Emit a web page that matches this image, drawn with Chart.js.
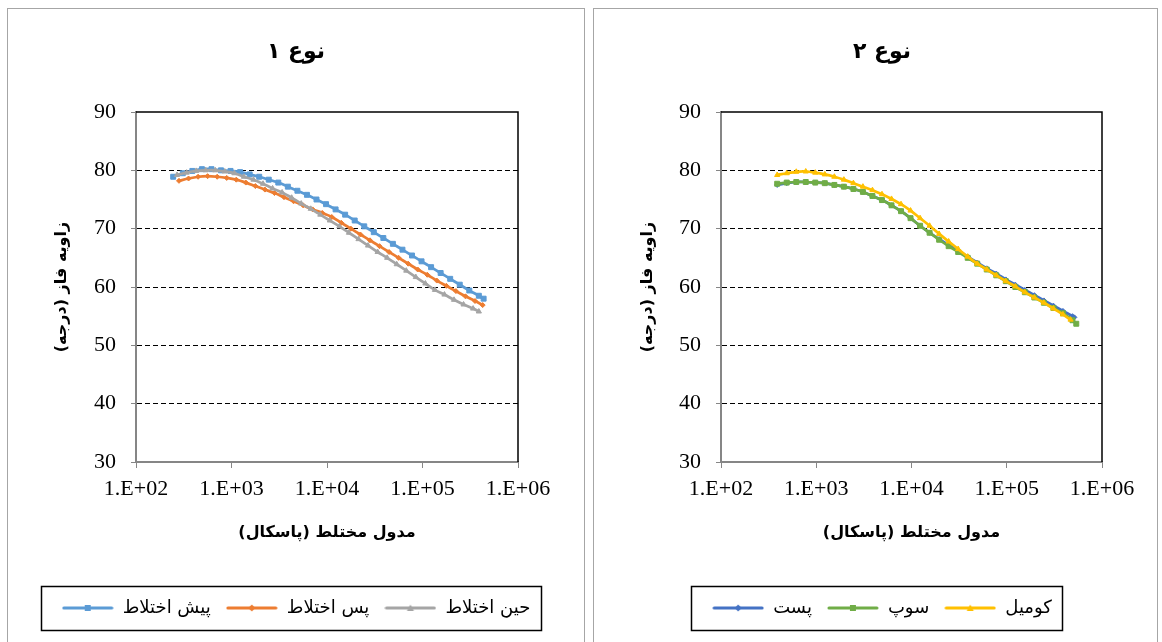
<!DOCTYPE html>
<html lang="fa">
<head>
<meta charset="utf-8">
<title>زاویه فاز - مدول مختلط</title>
<script src="https://cdn.jsdelivr.net/npm/chart.js@4.4.1/dist/chart.umd.min.js"></script>
<style>
  html, body { margin: 0; padding: 0; background: #fff; overflow: hidden; }
  .panel { position: absolute; top: 8px; border: 1px solid #a6a6a6; background: #fff; }
  #panel1 { left: 7px; width: 576px; height: 640px; }
  #panel2 { left: 593px; width: 563px; height: 640px; }
  canvas { display: block; }
</style>
</head>
<body>
<div class="panel" id="panel1"><canvas id="chart1" width="576" height="632"></canvas></div>
<div class="panel" id="panel2"><canvas id="chart2" width="563" height="632"></canvas></div>
<script>
// axis ticks and titles
const xTickValues = [1e2, 1e3, 1e4, 1e5, 1e6];
const xTickLabels = ['1.E+02', '1.E+03', '1.E+04', '1.E+05', '1.E+06'];
const xAxisTitle = 'مدول مختلط (پاسکال)';
const yAxisTitle = 'زاویه فاز (درجه)';
const chartTitles = ['نوع ۱', 'نوع ۲'];

// نوع ۱
const type1Names = ['پیش اختلاط', 'پس اختلاط', 'حین اختلاط'];
const preMixModulus = [245, 309, 389, 490, 617, 776, 977, 1230, 1549, 1950, 2455, 3090, 3890, 4898, 6166, 7762, 9772,
  12303, 15488, 19498, 24547, 30903, 38905, 48978, 61660, 77625, 97724, 123027, 154882, 194984, 245471, 309030, 389045, 436516];
const preMixPhase = [78.9, 79.5, 79.9, 80.2, 80.2, 80.0, 79.9, 79.7, 79.3, 78.9, 78.4, 77.9, 77.2, 76.5, 75.8, 75.0, 74.2,
  73.3, 72.4, 71.4, 70.4, 69.4, 68.4, 67.4, 66.4, 65.4, 64.4, 63.4, 62.4, 61.4, 60.4, 59.4, 58.5, 58.0];
const postMixModulus = [282, 355, 447, 562, 708, 891, 1122, 1413, 1778, 2239, 2818, 3548, 4467, 5623, 7079, 8913,
  11220, 14125, 17783, 22387, 28184, 35481, 44668, 56234, 70795, 89125, 112202, 141254, 177828, 223872, 281838, 354813, 426580];
const postMixPhase = [78.2, 78.6, 78.9, 79.0, 78.9, 78.7, 78.4, 77.9, 77.3, 76.7, 76.1, 75.4, 74.7, 74.0, 73.3, 72.7,
  72.0, 71.0, 70.0, 69.0, 68.0, 67.0, 66.0, 65.0, 64.0, 63.0, 62.1, 61.1, 60.2, 59.3, 58.4, 57.6, 56.9];
const duringMixModulus = [269, 339, 427, 537, 676, 851, 1072, 1349, 1698, 2138, 2692, 3388, 4266, 5370, 6761, 8511,
  10715, 13490, 16982, 21380, 26915, 33884, 42658, 53703, 67608, 85114, 107152, 134896, 169824, 213796, 269153, 338844, 389045];
const duringMixPhase = [79.2, 79.6, 79.9, 80.0, 80.0, 79.8, 79.5, 78.9, 78.4, 77.7, 76.9, 76.2, 75.3, 74.3, 73.4, 72.4,
  71.4, 70.4, 69.3, 68.2, 67.1, 66.0, 65.0, 63.9, 62.8, 61.7, 60.6, 59.5, 58.7, 57.8, 57.0, 56.3, 55.8];

// نوع ۲
const type2Names = ['پست', 'سوپ', 'کومیل'];
const pastModulus = [389, 490, 617, 776, 977, 1230, 1549, 1950, 2455, 3090, 3890, 4898, 6166, 7762, 9772, 12303,
  15488, 19498, 24547, 30903, 38905, 48978, 61660, 77625, 97724, 123027, 154882, 194984, 245471, 309030, 389045, 489779, 512861];
const pastPhase = [77.5, 77.8, 78.0, 78.0, 77.9, 77.8, 77.5, 77.2, 76.8, 76.3, 75.6, 74.9, 74.0, 73.0, 71.8, 70.5,
  69.3, 68.2, 67.2, 66.2, 65.2, 64.2, 63.2, 62.3, 61.3, 60.4, 59.5, 58.6, 57.7, 56.8, 55.9, 55.0, 54.8];
const soupModulus = [389, 490, 617, 776, 977, 1230, 1549, 1950, 2455, 3090, 3890, 4898, 6166, 7762, 9772, 12303,
  15488, 19498, 24547, 30903, 38905, 48978, 61660, 77625, 97724, 123027, 154882, 194984, 245471, 309030, 389045, 489779, 537032];
const soupPhase = [77.7, 77.9, 78.0, 78.0, 77.9, 77.8, 77.5, 77.2, 76.8, 76.3, 75.6, 74.9, 74.0, 73.0, 71.8, 70.5,
  69.3, 68.1, 67.0, 66.0, 65.0, 64.0, 63.0, 62.0, 61.0, 60.0, 59.1, 58.2, 57.3, 56.4, 55.5, 54.3, 53.7];
const komeilModulus = [389, 490, 617, 776, 977, 1230, 1549, 1950, 2455, 3090, 3890, 4898, 6166, 7762, 9772, 12303,
  15488, 19498, 24547, 30903, 38905, 48978, 61660, 77625, 97724, 123027, 154882, 194984, 245471, 309030, 389045, 467735];
const komeilPhase = [79.2, 79.5, 79.75, 79.8, 79.6, 79.3, 78.9, 78.4, 77.8, 77.2, 76.6, 75.9, 75.1, 74.2, 73.1, 71.8,
  70.5, 69.1, 67.8, 66.5, 65.2, 64.0, 63.0, 62.0, 61.0, 60.1, 59.1, 58.2, 57.3, 56.3, 55.3, 54.4];

const persianFont = "'DejaVu Sans', sans-serif";
const RLM = '\u200F';
Chart.defaults.font.family = "'Liberation Serif', 'Times New Roman', serif";
Chart.defaults.color = '#000';

// small line + marker image used as the legend symbol
function legendIcon(color, marker) {
  const c = document.createElement('canvas');
  c.width = 52; c.height = 10;
  const g = c.getContext('2d');
  g.strokeStyle = color; g.fillStyle = color;
  g.lineWidth = 3; g.lineCap = 'round';
  g.beginPath(); g.moveTo(2, 5); g.lineTo(50, 5); g.stroke();
  g.beginPath();
  if (marker === 'rect') {
    g.rect(23, 2, 6, 6);
  } else if (marker === 'rectRot') {
    g.moveTo(26, 1.5); g.lineTo(29.5, 5); g.lineTo(26, 8.5); g.lineTo(22.5, 5); g.closePath();
  } else {
    g.moveTo(26, 1.5); g.lineTo(29.5, 8); g.lineTo(22.5, 8); g.closePath();
  }
  g.fill();
  return c;
}

// top and right edges of the plot area, box round the legend
const framePlugin = {
  id: 'frame',
  afterLayout(chart, args, opts) {
    // title and legend sit centred on the whole panel, not on the padded width
    [chart.titleBlock, chart.legend].forEach(b => {
      if (b) { b.left += opts.shift; b.right += opts.shift; }
    });
  },
  beforeDatasetsDraw(chart) {
    const { ctx, chartArea: a } = chart;
    ctx.save();
    ctx.strokeStyle = '#000';
    ctx.lineWidth = 1.5;
    ctx.beginPath();
    ctx.moveTo(a.left, a.top);
    ctx.lineTo(a.right, a.top);
    ctx.lineTo(a.right, a.bottom);
    ctx.stroke();
    ctx.restore();
  },
  afterDraw(chart) {
    const boxes = chart.legend && chart.legend.legendHitBoxes;
    if (!boxes || !boxes.length) return;
    const left = Math.min(...boxes.map(b => b.left)) - 21;
    const right = Math.max(...boxes.map(b => b.left + b.width)) + 10;
    const cy = boxes[0].top + boxes[0].height / 2;
    const { ctx } = chart;
    ctx.save();
    ctx.strokeStyle = '#000';
    ctx.lineWidth = 1.5;
    ctx.strokeRect(Math.round(left) + 0.5, Math.round(cy - 22) + 0.5, Math.round(right - left), 44);
    ctx.restore();
  }
};

function drawPanel(canvasId, title, series, yWidth, padRight, shift) {
  const ctx = document.getElementById(canvasId).getContext('2d');
  return new Chart(ctx, {
    type: 'line',
    data: {
      datasets: series.map((s, i) => ({
        label: s.label,
        data: s.modulus.map((x, j) => ({ x: x, y: s.phase[j] })),
        borderColor: s.color,
        backgroundColor: s.color,
        borderWidth: 2.75,
        tension: 0.3,
        pointStyle: s.marker,
        pointRadius: s.radius,
        pointBorderWidth: 1,
        pointBackgroundColor: s.color,
        pointBorderColor: s.color,
        order: series.length - i
      }))
    },
    options: {
      responsive: false,
      animation: false,
      devicePixelRatio: 1,
      layout: { padding: { top: 0, left: 0, right: padRight, bottom: 14 } },
      plugins: {
        frame: { shift: shift },
        title: {
          display: true,
          text: title,
          color: '#000',
          font: { family: persianFont, size: 22, weight: 'bold' },
          padding: { top: 30, bottom: 46.6 }
        },
        legend: {
          position: 'bottom',
          labels: {
            usePointStyle: true,
            pointStyleWidth: 52,
            padding: 15,
            color: '#000',
            font: { family: persianFont, size: 18 },
            generateLabels: chart => chart.data.datasets.map((d, i) => ({
              text: d.label,
              datasetIndex: i,
              pointStyle: series[i].icon,
              fillStyle: d.borderColor,
              strokeStyle: d.borderColor,
              lineWidth: 0,
              hidden: false
            }))
          }
        },
        tooltip: { enabled: false }
      },
      scales: {
        x: {
          type: 'logarithmic',
          min: 100,
          max: 1e6,
          afterBuildTicks: scale => { scale.ticks = xTickValues.map(v => ({ value: v })); },
          afterFit: scale => { scale.height = 122; },
          ticks: {
            callback: (v, i) => xTickLabels[i],
            autoSkip: false, maxRotation: 0, minRotation: 0,
            padding: 8, color: '#000',
            font: { size: 22 }
          },
          grid: { drawOnChartArea: false, tickColor: '#868686', tickLength: 6 },
          border: { color: '#868686', width: 2 },
          title: {
            display: true,
            text: RLM + xAxisTitle + RLM,
            color: '#000',
            font: { family: persianFont, size: 16, weight: 'bold' },
            padding: { top: 0, bottom: 42 }
          }
        },
        y: {
          min: 30,
          max: 90,
          afterFit: scale => { scale.width = yWidth; },
          ticks: { stepSize: 10, padding: 15, color: '#000', font: { size: 22 } },
          grid: {
            color: c => (c.tick && (c.tick.value === 30 || c.tick.value === 90)) ? 'rgba(0,0,0,0)' : '#000',
            tickColor: '#868686',
            tickLength: 5,
            lineWidth: 1
          },
          border: { color: '#868686', width: 2, dash: [5, 3] },
          title: {
            display: true,
            text: RLM + yAxisTitle + RLM,
            color: '#000',
            font: { family: persianFont, size: 16, weight: 'bold' },
            padding: { top: 44, bottom: 0 }
          }
        }
      }
    },
    plugins: [framePlugin]
  });
}

const type1Series = [
  { label: type1Names[0], modulus: preMixModulus, phase: preMixPhase, color: '#5B9BD5', marker: 'rect', radius: 3.5 },
  { label: type1Names[1], modulus: postMixModulus, phase: postMixPhase, color: '#ED7D31', marker: 'rectRot', radius: 2.5 },
  { label: type1Names[2], modulus: duringMixModulus, phase: duringMixPhase, color: '#A5A5A5', marker: 'triangle', radius: 3 }
];
const type2Series = [
  { label: type2Names[0], modulus: pastModulus, phase: pastPhase, color: '#4472C4', marker: 'rectRot', radius: 2.5 },
  { label: type2Names[1], modulus: soupModulus, phase: soupPhase, color: '#70AD47', marker: 'rect', radius: 3.5 },
  { label: type2Names[2], modulus: komeilModulus, phase: komeilPhase, color: '#FFC000', marker: 'triangle', radius: 3 }
];
type1Series.concat(type2Series).forEach(s => { s.icon = legendIcon(s.color, s.marker); });

drawPanel('chart1', chartTitles[0], type1Series, 128, 66, 33);
drawPanel('chart2', chartTitles[1], type2Series, 127, 55, 34);
</script>
</body>
</html>
